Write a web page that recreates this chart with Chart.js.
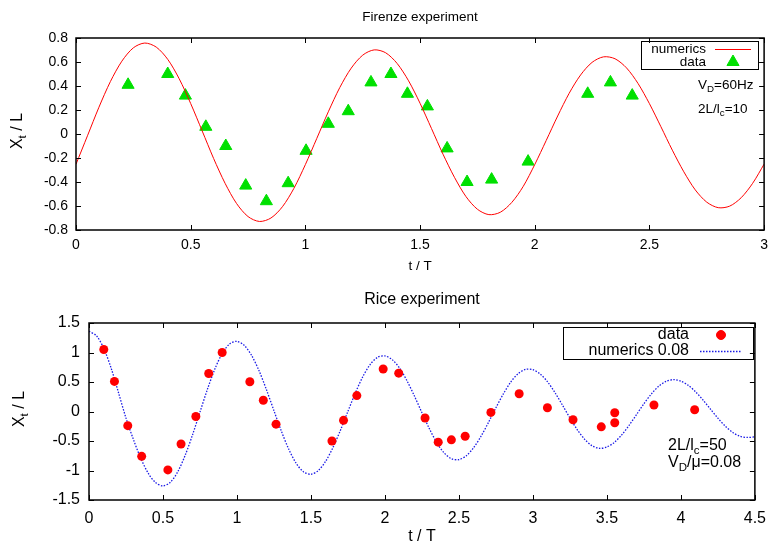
<!DOCTYPE html>
<html>
<head>
<meta charset="utf-8">
<script src="https://cdn.jsdelivr.net/npm/chart.js@4.4.1/dist/chart.umd.min.js"></script>
<style>
  html, body { margin: 0; padding: 0; background: #fff; }
  #wrap { position: relative; width: 775px; height: 547px; }
  canvas { position: absolute; left: 0; }
</style>
</head>
<body>
<div id="wrap">
  <canvas id="firenze" width="775" height="280" style="top:0px"></canvas>
  <canvas id="rice" width="775" height="267" style="top:280px"></canvas>
</div>
<script>
// ---------- Firenze experiment (top panel) ----------
const firenzeNumT = [0, 0.05, 0.1, 0.15, 0.2, 0.25, 0.3, 0.35, 0.4, 0.45, 0.5, 0.55, 0.6, 0.65, 0.7, 0.75, 0.8, 0.85, 0.9, 0.95,
  1, 1.05, 1.1, 1.15, 1.2, 1.25, 1.3, 1.35, 1.4, 1.45, 1.5, 1.55, 1.6, 1.65, 1.7, 1.75, 1.8, 1.85, 1.9, 1.95,
  2, 2.05, 2.1, 2.15, 2.2, 2.25, 2.3, 2.35, 2.4, 2.45, 2.5, 2.55, 2.6, 2.65, 2.7, 2.75, 2.8, 2.85, 2.9, 2.95, 3];
const firenzeNumV = [-0.252, -0.015, 0.223, 0.437, 0.607, 0.718, 0.758, 0.724, 0.622, 0.460, 0.254, 0.026, -0.204, -0.411, -0.579, -0.688, -0.729, -0.700, -0.606, -0.453,
  -0.255, -0.036, 0.185, 0.387, 0.549, 0.657, 0.701, 0.677, 0.588, 0.443, 0.256, 0.045, -0.168, -0.361, -0.521, -0.627, -0.672, -0.652, -0.570, -0.436,
  -0.255, -0.054, 0.150, 0.339, 0.492, 0.597, 0.643, 0.627, 0.551, 0.422, 0.253, 0.061, -0.135, -0.315, -0.466, -0.568, -0.614, -0.601, -0.531, -0.411, -0.251];
const firenzeDataT = [0.227, 0.40, 0.477, 0.566, 0.653, 0.74, 0.83, 0.925, 1.003, 1.10, 1.187, 1.286, 1.373, 1.445, 1.532, 1.618, 1.705, 1.812, 1.971, 2.231, 2.33, 2.425];
const firenzeDataV = [0.41, 0.50, 0.32, 0.06, -0.10, -0.43, -0.56, -0.41, -0.14, 0.085, 0.19, 0.43, 0.50, 0.335, 0.23, -0.12, -0.40, -0.38, -0.23, 0.335, 0.43, 0.32];
const firenzeXTicks = [0, 0.5, 1, 1.5, 2, 2.5, 3];
const firenzeYTicks = [-0.8, -0.6, -0.4, -0.2, 0, 0.2, 0.4, 0.6, 0.8];

// ---------- Rice experiment (bottom panel) ----------
const riceNumT = [0, 0.05, 0.1, 0.15, 0.2, 0.25, 0.3, 0.35, 0.4, 0.45, 0.5, 0.55, 0.6, 0.65, 0.7, 0.75, 0.8, 0.85, 0.9, 0.95,
  1, 1.05, 1.1, 1.15, 1.2, 1.25, 1.3, 1.35, 1.4, 1.45, 1.5, 1.55, 1.6, 1.65, 1.7, 1.75, 1.8, 1.85, 1.9, 1.95,
  2, 2.05, 2.1, 2.15, 2.2, 2.25, 2.3, 2.35, 2.4, 2.45, 2.5, 2.55, 2.6, 2.65, 2.7, 2.75, 2.8, 2.85, 2.9, 2.95,
  3, 3.05, 3.1, 3.15, 3.2, 3.25, 3.3, 3.35, 3.4, 3.45, 3.5, 3.55, 3.6, 3.65, 3.7, 3.75, 3.8, 3.85, 3.9, 3.95,
  4, 4.05, 4.1, 4.15, 4.2, 4.25, 4.3, 4.35, 4.4, 4.45, 4.5];
const riceNumV = [1.36, 1.285, 1.068, 0.732, 0.314, -0.112, -0.473, -0.794, -1.045, -1.205, -1.26, -1.199, -1.020, -0.742, -0.393, -0.008, 0.374, 0.716, 0.982, 1.145,
  1.189, 1.119, 0.945, 0.686, 0.364, 0.013, -0.333, -0.640, -0.878, -1.024, -1.064, -1.000, -0.841, -0.604, -0.313, 0.004, 0.314, 0.589, 0.796, 0.919,
  0.943, 0.876, 0.730, 0.516, 0.257, -0.021, -0.290, -0.526, -0.702, -0.801, -0.815, -0.749, -0.611, -0.416, -0.183, 0.064, 0.298, 0.498, 0.641, 0.713,
  0.708, 0.634, 0.499, 0.316, 0.106, -0.110, -0.310, -0.472, -0.581, -0.624, -0.602, -0.524, -0.397, -0.234, -0.052, 0.131, 0.296, 0.428, 0.511, 0.540,
  0.515, 0.443, 0.332, 0.193, 0.039, -0.113, -0.249, -0.355, -0.421, -0.440, -0.430];
const riceDataT = [0.10, 0.172, 0.262, 0.356, 0.533, 0.622, 0.722, 0.809, 0.90, 1.087, 1.178, 1.264, 1.642, 1.72, 1.81, 1.988,
  2.093, 2.271, 2.36, 2.449, 2.542, 2.716, 2.907, 3.098, 3.271, 3.462, 3.553, 3.553, 3.818, 4.093];
const riceDataV = [1.05, 0.51, -0.24, -0.76, -0.99, -0.55, -0.085, 0.645, 1.00, 0.505, 0.19, -0.215, -0.50, -0.15, 0.27, 0.72,
  0.65, -0.11, -0.52, -0.48, -0.42, -0.015, 0.30, 0.063, -0.14, -0.26, -0.19, -0.022, 0.11, 0.03];
const riceXTicks = [0, 0.5, 1, 1.5, 2, 2.5, 3, 3.5, 4, 4.5];
const riceYTicks = [-1.5, -1, -0.5, 0, 0.5, 1, 1.5];

const FONT = '"Liberation Sans", Arial, Helvetica, sans-serif';

function pts(xs, ys) {
  return xs.map((x, i) => ({ x: x, y: ys[i] }));
}

// text with subscripts: parts = [[text, isSub], ...]
function richText(ctx, parts, x, y, size, align) {
  let w = 0;
  parts.forEach(p => {
    ctx.font = (p[1] ? size * 0.72 : size) + 'px ' + FONT;
    w += ctx.measureText(p[0]).width;
  });
  let cx = align === 'center' ? x - w / 2 : (align === 'right' ? x - w : x);
  ctx.textAlign = 'left';
  ctx.textBaseline = 'middle';
  parts.forEach(p => {
    const s = p[1] ? size * 0.72 : size;
    ctx.font = s + 'px ' + FONT;
    ctx.fillText(p[0], cx, p[1] ? y + size * 0.3 : y);
    cx += ctx.measureText(p[0]).width;
  });
}

function decor(cfg) {
  return {
    id: 'decor',
    afterDraw(chart) {
      const ctx = chart.ctx;
      const a = chart.chartArea;
      const xs = chart.scales.x, ys = chart.scales.y;
      ctx.save();
      ctx.fillStyle = '#000';
      ctx.strokeStyle = '#000';

      // inward mirrored ticks
      ctx.lineWidth = 1;
      ctx.beginPath();
      xs.ticks.forEach(t => {
        const px = Math.round(xs.getPixelForValue(t.value)) + 0.5;
        ctx.moveTo(px, a.bottom); ctx.lineTo(px, a.bottom - 5);
        ctx.moveTo(px, a.top); ctx.lineTo(px, a.top + 5);
      });
      ys.ticks.forEach(t => {
        const py = Math.round(ys.getPixelForValue(t.value)) + 0.5;
        ctx.moveTo(a.left, py); ctx.lineTo(a.left + 5, py);
        ctx.moveTo(a.right, py); ctx.lineTo(a.right - 5, py);
      });
      ctx.stroke();

      // frame
      ctx.lineWidth = 1.5;
      ctx.strokeRect(a.left, a.top, a.right - a.left, a.bottom - a.top);

      // titles
      richText(ctx, [[cfg.title, 0]], (a.left + a.right) / 2, cfg.titleY, cfg.titleSize, 'center');
      richText(ctx, [['t / T', 0]], (a.left + a.right) / 2, cfg.xTitleY, cfg.xTitleSize, 'center');
      ctx.save();
      ctx.translate(cfg.yTitleX, cfg.yTitleY);
      ctx.rotate(-Math.PI / 2);
      richText(ctx, [['X', 0], ['t', 1], [' / L', 0]], 0, 0, cfg.yTitleSize, 'center');
      ctx.restore();

      // annotations
      cfg.notes.forEach(n => richText(ctx, n.parts, n.x, n.y, cfg.noteSize, 'left'));

      // legend (gnuplot style: text then sample)
      const L = cfg.legend;
      ctx.lineWidth = 1;
      ctx.strokeRect(L.box[0] + 0.5, L.box[1] + 0.5, L.box[2], L.box[3]);
      L.items.forEach((it, k) => {
        const ds = chart.data.datasets[it];
        const y = L.rows[k];
        richText(ctx, [[ds.label, 0]], L.textRight, y, cfg.legendSize, 'right');
        if (ds.showLine) {
          ctx.save();
          ctx.strokeStyle = ds.borderColor;
          ctx.lineWidth = ds.borderWidth;
          ctx.setLineDash(ds.borderDash || []);
          ctx.beginPath();
          ctx.moveTo(L.line[0], y + 0.5); ctx.lineTo(L.line[1], y + 0.5);
          ctx.stroke();
          ctx.restore();
        } else {
          ctx.save();
          ctx.fillStyle = ds.backgroundColor;
          ctx.strokeStyle = ds.borderColor;
          Chart.helpers.drawPoint(ctx, { pointStyle: ds.pointStyle, radius: ds.pointRadius, rotation: 0, borderWidth: 1 },
            (L.line[0] + L.line[1]) / 2, y);
          ctx.restore();
        }
      });
      ctx.restore();
    }
  };
}

function axis(min, max, tickVals, size, pad, fixed, horizontal) {
  return {
    type: 'linear',
    min: min,
    max: max,
    grid: { display: false, drawTicks: false },
    border: { display: false },
    ticks: {
      color: '#000', font: { family: FONT, size: size }, padding: pad, maxRotation: 0, autoSkip: false,
      callback: v => String(v)
    },
    afterBuildTicks: s => { s.ticks = tickVals.map(v => ({ value: v })); },
    afterFit: s => { if (horizontal) s.height = fixed; else s.width = fixed; }
  };
}

new Chart(document.getElementById('firenze'), {
  type: 'scatter',
  data: {
    datasets: [
      {
        label: 'numerics',
        data: pts(firenzeNumT, firenzeNumV),
        showLine: true,
        borderColor: '#ff0000',
        backgroundColor: '#ff0000',
        borderWidth: 1,
        pointRadius: 0,
        tension: 0.3
      },
      {
        label: 'data',
        data: pts(firenzeDataT, firenzeDataV),
        showLine: false,
        pointStyle: 'triangle',
        pointRadius: 7,
        backgroundColor: '#00e000',
        borderColor: '#00e000',
        borderWidth: 1
      }
    ]
  },
  options: {
    responsive: false,
    animation: false,
    layout: { padding: { left: 0, right: 6, top: 38, bottom: 0 } },
    plugins: { legend: { display: false }, title: { display: false }, tooltip: { enabled: false } },
    scales: {
      x: axis(0, 3, firenzeXTicks, 14, 7, 50, true),
      y: axis(-0.8, 0.8, firenzeYTicks, 14, 8, 76, false)
    }
  },
  plugins: [decor({
    title: 'Firenze experiment', titleY: 17, titleSize: 13.5,
    xTitleY: 266, xTitleSize: 13.5,
    yTitleX: 18, yTitleY: 131, yTitleSize: 16,
    noteSize: 13.5,
    notes: [
      { parts: [['V', 0], ['D', 1], ['=60Hz', 0]], x: 698, y: 85 },
      { parts: [['2L/l', 0], ['c', 1], ['=10', 0]], x: 698, y: 109 }
    ],
    legendSize: 13.5,
    legend: { box: [641, 41, 117, 28], textRight: 706, rows: [49, 62], line: [715, 751], items: [0, 1] }
  })]
});

new Chart(document.getElementById('rice'), {
  type: 'scatter',
  data: {
    datasets: [
      {
        label: 'data',
        data: pts(riceDataT, riceDataV),
        showLine: false,
        pointStyle: 'circle',
        pointRadius: 4.5,
        backgroundColor: '#ff0000',
        borderColor: '#ff0000',
        borderWidth: 0
      },
      {
        label: 'numerics 0.08',
        data: pts(riceNumT, riceNumV),
        showLine: true,
        borderColor: '#1a1ae6',
        backgroundColor: '#1a1ae6',
        borderWidth: 1.3,
        borderDash: [1.5, 1.5],
        pointRadius: 0,
        tension: 0.3
      }
    ]
  },
  options: {
    responsive: false,
    animation: false,
    layout: { padding: { left: 0, right: 12, top: 43, bottom: 0 } },
    plugins: { legend: { display: false }, title: { display: false }, tooltip: { enabled: false } },
    scales: {
      x: axis(0, 4.5, riceXTicks, 16, 9, 47, true),
      y: axis(-1.5, 1.5, riceYTicks, 16, 9, 89, false)
    }
  },
  plugins: [decor({
    title: 'Rice experiment', titleY: 20, titleSize: 16,
    xTitleY: 257, xTitleSize: 16,
    yTitleX: 20, yTitleY: 129, yTitleSize: 16,
    noteSize: 16,
    notes: [
      { parts: [['2L/l', 0], ['c', 1], ['=50', 0]], x: 668, y: 166 },
      { parts: [['V', 0], ['D', 1], ['/\u03bc=0.08', 0]], x: 668, y: 183 }
    ],
    legendSize: 16,
    legend: { box: [563, 47, 190, 32], textRight: 689, rows: [55, 71], line: [700, 742], items: [0, 1] }
  })]
});
</script>
</body>
</html>
